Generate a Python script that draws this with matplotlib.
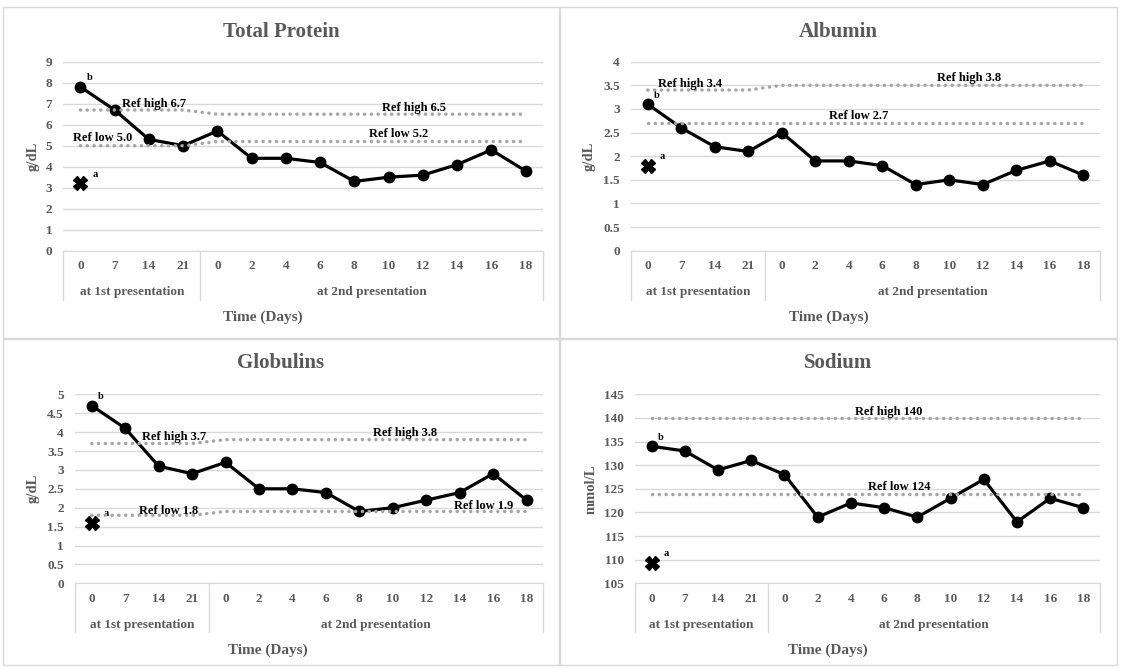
import matplotlib
matplotlib.use("Agg")
import matplotlib.pyplot as plt
import matplotlib.transforms as mtransforms
from matplotlib.patches import Rectangle

plt.rcParams['font.family'] = ['Liberation Serif', 'DejaVu Serif']
plt.rcParams['font.weight'] = 'bold'

# kategori sumbu x (dua tingkat)
days = ['0', '7', '14', '21', '0', '2', '4', '6', '8', '10', '12', '14', '16', '18']
groups = ['at 1st presentation', 'at 2nd presentation']
group_sizes = [4, 10]

# Total Protein (g/dL)
tp = [7.8, 6.7, 5.3, 5.0, 5.7, 4.4, 4.4, 4.2, 3.3, 3.5, 3.6, 4.1, 4.8, 3.8]
tp_first = 3.2
tp_high = [6.7, 6.7, 6.7, 6.7, 6.5, 6.5, 6.5, 6.5, 6.5, 6.5, 6.5, 6.5, 6.5, 6.5]
tp_low = [5.0, 5.0, 5.0, 5.0, 5.2, 5.2, 5.2, 5.2, 5.2, 5.2, 5.2, 5.2, 5.2, 5.2]

# Albumin (g/dL)
alb = [3.1, 2.6, 2.2, 2.1, 2.5, 1.9, 1.9, 1.8, 1.4, 1.5, 1.4, 1.7, 1.9, 1.6]
alb_first = 1.8
alb_high = [3.4, 3.4, 3.4, 3.4, 3.5, 3.5, 3.5, 3.5, 3.5, 3.5, 3.5, 3.5, 3.5, 3.5]
alb_low = [2.7, 2.7, 2.7, 2.7, 2.7, 2.7, 2.7, 2.7, 2.7, 2.7, 2.7, 2.7, 2.7, 2.7]

# Globulins (g/dL)
glob = [4.7, 4.1, 3.1, 2.9, 3.2, 2.5, 2.5, 2.4, 1.9, 2.0, 2.2, 2.4, 2.9, 2.2]
glob_first = 1.6
glob_high = [3.7, 3.7, 3.7, 3.7, 3.8, 3.8, 3.8, 3.8, 3.8, 3.8, 3.8, 3.8, 3.8, 3.8]
glob_low = [1.8, 1.8, 1.8, 1.8, 1.9, 1.9, 1.9, 1.9, 1.9, 1.9, 1.9, 1.9, 1.9, 1.9]

# Sodium (mmol/L)
na = [134, 133, 129, 131, 128, 119, 122, 121, 119, 123, 127, 118, 123, 121]
na_first = 109.4
na_high = [140, 140, 140, 140, 140, 140, 140, 140, 140, 140, 140, 140, 140, 140]
na_low = [124, 124, 124, 124, 124, 124, 124, 124, 124, 124, 124, 124, 124, 124]

W, H = 1123, 668
GREY = '#595959'
LIGHT = '#d9d9d9'

fig = plt.figure(figsize=(W / 100, H / 100), dpi=100)


def frame(x0, y0, x1, y1):
    fig.add_artist(Rectangle((x0 / W, 1 - y1 / H), (x1 - x0) / W, (y1 - y0) / H,
                             transform=fig.transFigure, fill=False, ec=LIGHT, lw=1))


def ftext(x, y, s, **kw):
    fig.text(x / W, 1 - y / H, s, ha='center', va='center', color=GREY, **kw)


def panel(box, plot, title, title_y, time_x, time_y, ylabel, ylabel_x,
          vals, first, high, low, ylim, yticks, ytick_labels, ref_texts):
    frame(*box)
    x0, y0, x1, y1 = plot
    ax = fig.add_axes([x0 / W, 1 - y1 / H, (x1 - x0) / W, (y1 - y0) / H])
    xs = list(range(len(days)))

    ax.plot(xs, vals, color='black', lw=2.3, marker='o', ms=7.5, zorder=3)
    ax.plot([0], [first], color='black', marker='X', ms=9.5, ls='none', zorder=3)
    for ref in (high, low):
        ax.plot(xs, ref, color='#a6a6a6', lw=2.5, ls=(0, (0.05, 1.9)),
                dash_capstyle='round', zorder=4)
    for (tx, ty, s) in ref_texts:
        ax.text(tx, ty, s, ha='center', va='center', fontsize=9, color='black', zorder=5)
    ax.annotate('b', (0, vals[0]), xytext=(6.5, 6.5), textcoords='offset points',
                ha='center', va='center', fontsize=7.5, color='black')
    ax.annotate('a', (0, first), xytext=(10.5, 6.5), textcoords='offset points',
                ha='center', va='center', fontsize=7.5, color='black')

    ax.set_xlim(-0.5, len(days) - 0.5)
    ax.set_ylim(*ylim)
    ax.set_yticks(yticks)
    ax.set_yticklabels(ytick_labels)
    ax.set_xticks(xs)
    ax.set_xticklabels(days)
    ax.tick_params(axis='both', length=0, labelsize=9.5, labelcolor=GREY)
    ax.tick_params(axis='x', pad=7)
    ax.tick_params(axis='y', pad=8)
    ax.yaxis.grid(True, color=LIGHT, lw=1)
    ax.set_axisbelow(True)
    for side in ['left', 'right', 'top']:
        ax.spines[side].set_visible(False)
    ax.spines['bottom'].set_color(LIGHT)

    # sumbu kategori dua tingkat
    trans = mtransforms.blended_transform_factory(ax.transData, ax.transAxes)
    start = -0.5
    ax.plot([start, start], [0, -0.26], transform=trans, color=LIGHT, lw=1, clip_on=False)
    for g, n in zip(groups, group_sizes):
        ax.text(start + n / 2, -0.218, g, transform=trans, ha='center', va='center',
                fontsize=9.5, color=GREY)
        start += n
        ax.plot([start, start], [0, -0.26], transform=trans, color=LIGHT, lw=1, clip_on=False)

    ftext((box[0] + box[2]) / 2, title_y, title, fontsize=15)
    ftext(time_x, time_y, 'Time (Days)', fontsize=11)
    ftext(ylabel_x, (y0 + y1) / 2, ylabel, fontsize=10.5, rotation=90)
    return ax


half = [str(v).rstrip('0').rstrip('.') if v != 0 else '0' for v in
        [0, 0.5, 1, 1.5, 2, 2.5, 3, 3.5, 4, 4.5, 5]]

panel((3, 7, 559, 338), (63.3, 61.7, 542.7, 250.7), 'Total Protein', 32, 263, 317.7,
      'g/dL', 33, tp, tp_first, tp_high, tp_low, (0, 9), range(0, 10),
      [str(v) for v in range(0, 10)],
      [(2.15, 7.0, 'Ref high 6.7'), (0.64, 5.35, 'Ref low 5.0'),
       (9.74, 6.78, 'Ref high 6.5'), (9.28, 5.54, 'Ref low 5.2')])

panel((560, 7, 1117, 338), (631, 61.7, 1100, 250.7), 'Albumin', 32, 828.5, 317.7,
      'g/dL', 589, alb, alb_first, alb_high, alb_low, (0, 4),
      [0, 0.5, 1, 1.5, 2, 2.5, 3, 3.5, 4], half[:9],
      [(1.25, 3.52, 'Ref high 3.4'), (9.58, 3.66, 'Ref high 3.8'),
       (6.28, 2.86, 'Ref low 2.7')])

panel((3, 339, 559, 665), (75, 394.3, 543.3, 583.3), 'Globulins', 363.3, 268, 650,
      'g/dL', 33, glob, glob_first, glob_high, glob_low, (0, 5),
      [0, 0.5, 1, 1.5, 2, 2.5, 3, 3.5, 4, 4.5, 5], half,
      [(2.47, 3.86, 'Ref high 3.7'), (2.29, 1.91, 'Ref low 1.8'),
       (9.37, 3.97, 'Ref high 3.8'), (11.71, 2.05, 'Ref low 1.9')])

panel((560, 339, 1117, 665), (635, 394.3, 1100, 583.3), 'Sodium', 363.3, 828, 650,
      'mmol/L', 591, na, na_first, na_high, na_low, (105, 145), range(105, 150, 5),
      [str(v) for v in range(105, 150, 5)],
      [(7.13, 141.2, 'Ref high 140'), (7.46, 125.4, 'Ref low 124')])

fig.savefig('out.png', dpi=100, facecolor='white')
